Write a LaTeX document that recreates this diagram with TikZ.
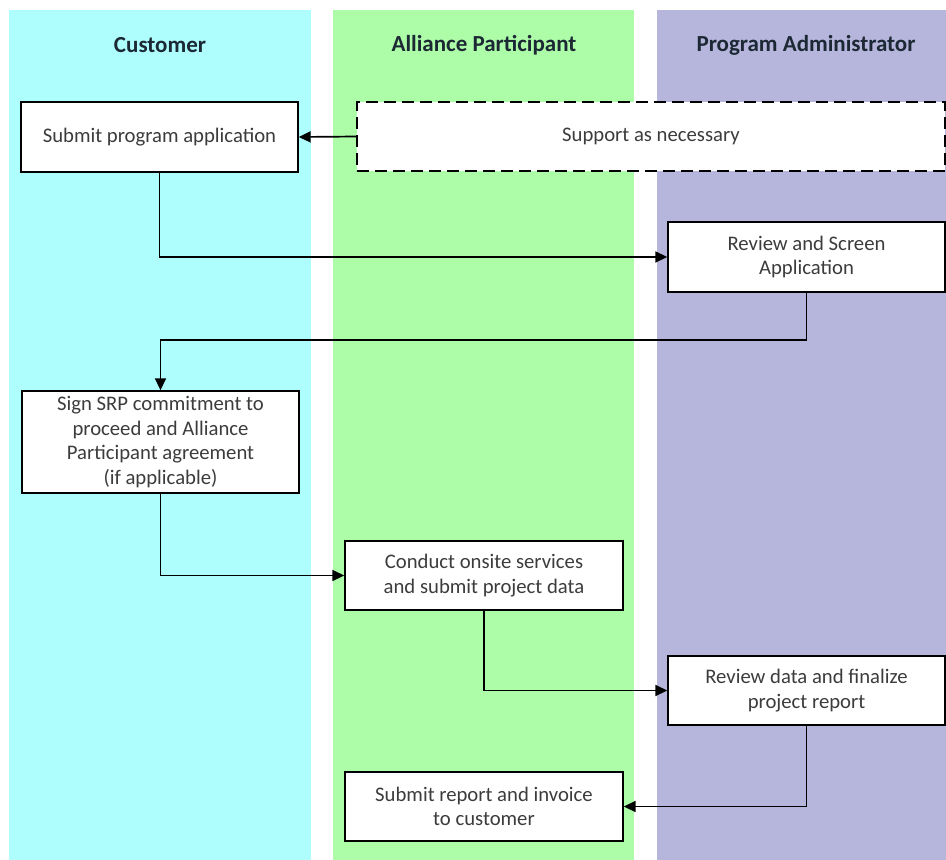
\documentclass[tikz,border=0pt]{standalone}
\usepackage{fontspec}
\setmainfont{Carlito}
\usetikzlibrary{arrows.meta}
\definecolor{laneA}{RGB}{175,254,254}
\definecolor{laneB}{RGB}{172,252,168}
\definecolor{laneC}{RGB}{182,182,220}
\definecolor{hdr}{RGB}{28,40,52}
\definecolor{bodytxt}{RGB}{60,60,60}
\tikzset{
  hdrtext/.style={font=\fontsize{23}{27}\selectfont\bfseries, text=hdr, inner sep=0pt},
  procbox/.style={draw=black, line width=1.4pt, fill=white, align=center, inner sep=2pt,
    font=\fontsize{20.7}{24.5}\selectfont, text=bodytxt},
  dashbox/.style={procbox, dash pattern=on 12pt off 6pt, line width=1.7pt},
  flow/.style={draw=black, line width=1.7pt, -{Triangle[length=12pt,width=11pt]}}
}
\begin{document}
\begin{tikzpicture}[x=1pt,y=-1pt]
\useasboundingbox (0,0) rectangle (946,860);
\fill[white] (0,0) rectangle (946,860);
% lanes
\fill[laneA] (9,10) rectangle (311,860);
\fill[laneB] (333,10) rectangle (634,860);
\fill[laneC] (657,10) rectangle (946,860);
% headers
\node[hdrtext] (h1) at (160,45) {Customer};
\node[hdrtext] (h2) at (484,45) {Alliance Participant};
\node[hdrtext] (h3) at (806,45) {Program Administrator};
% boxes
\node[procbox, minimum width=277pt, minimum height=70pt] (b1) at (159.5,137) {Submit program application};
\node[dashbox, minimum width=588pt, minimum height=69pt] (sp) at (651,136.5) {Support as necessary};
\node[procbox, minimum width=277pt, minimum height=70pt] (b3) at (806.5,257) {Review and Screen\\Application};
\node[procbox, minimum width=277pt, minimum height=102pt] (b4) at (160.5,442) {Sign SRP commitment to\\proceed and Alliance\\Participant agreement\\(if applicable)};
\node[procbox, minimum width=278pt, minimum height=69pt] (b5) at (484,575.5) {Conduct onsite services\\and submit project data};
\node[procbox, minimum width=277pt, minimum height=69pt] (b6) at (806.5,690.5) {Review data and finalize\\project report};
\node[procbox, minimum width=278pt, minimum height=69pt] (b7) at (484,806.5) {Submit report and invoice\\to customer};
% connectors
\draw[flow] (sp.west) -- (b1.east);
\draw[flow] (b1.south) |- (b3.west);
\coordinate (c1) at (806.5,340);
\coordinate (c2) at (160.5,340);
\draw[flow] (b3.south) -- (c1) -- (c2) -- (b4.north);
\draw[flow] (b4.south) |- (b5.west);
\draw[flow] (b5.south) |- (b6.west);
\draw[flow] (b6.south) |- (b7.east);
\end{tikzpicture}
\end{document}
